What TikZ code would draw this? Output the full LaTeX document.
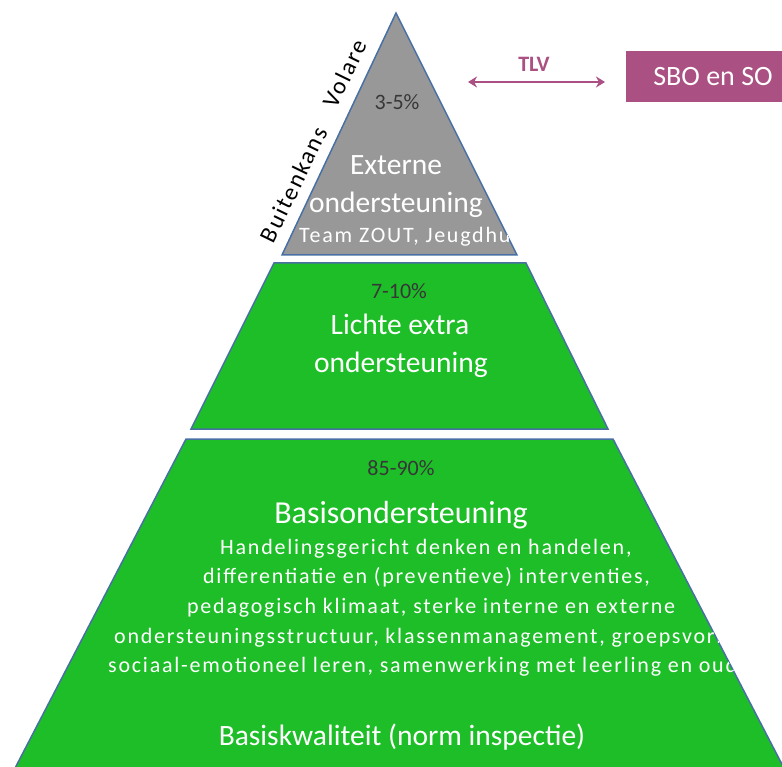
\documentclass[tikz,border=0pt]{standalone}
\usepackage{fontspec}
\setmainfont{Carlito}
\newfontfamily\widefont[LetterSpace=8]{Carlito}
\usetikzlibrary{arrows.meta}

\definecolor{layergreen}{RGB}{30,190,40}
\definecolor{layergray}{RGB}{152,152,152}
\definecolor{layerline}{RGB}{72,112,164}
\definecolor{tlvpink}{RGB}{170,80,130}
\definecolor{pcttext}{RGB}{55,55,55}

\newcommand{\fsz}[1]{\fontsize{#1}{#1}\selectfont}

\tikzset{
  layer/.style={fill=#1, draw=layerline, line width=1.5pt},
  pct/.style={text=pcttext, font=\fsz{22}, inner sep=0pt, anchor=base},
  title/.style={text=white, font=\fsz{29.5}, inner sep=0pt, anchor=base},
  body/.style={text=white, font=\widefont\fsz{22}, inner sep=0pt, anchor=base west},
  side/.style={font=\widefont\fsz{24}, inner sep=0pt, anchor=base, rotate=64},
}

\begin{document}
\begin{tikzpicture}[x=1pt,y=-1pt]
  \clip (0,0) rectangle (782,767);
  % the three layers
  \draw[layer=layergray] (396,13) -- (517,255) -- (282,255) -- cycle;
  \draw[layer=layergreen] (274,263) -- (526,263) -- (608,429) -- (191,429) -- cycle;
  \draw[layer=layergreen] (186,439) -- (613,439) -- (786,772) -- (13,772) -- cycle;

  % top layer
  \node[pct] (top pct) at (397,110) {3-5\%};
  \node[title] (top title) at (396,175) {Externe};
  \node[title] (top title2) at (396,213) {ondersteuning};
  \begin{scope}
    \clip (396,13) -- (517,255) -- (282,255) -- cycle;
    \node[body] (top body) at (299,243) {Team ZOUT, Jeugdhu};
  \end{scope}

  % middle layer
  \node[pct] (mid pct) at (399,299) {7-10\%};
  \node[title] (mid title) at (400,335) {Lichte extra};
  \node[title] (mid title2) at (401,372) {ondersteuning};

  % bottom layer
  \node[pct] (base pct) at (401,475) {85-90\%};
  \node[title, font=\fsz{32}] (base title) at (401,523) {Basisondersteuning};
  \begin{scope}
    \clip (186,439) -- (613,439) -- (786,772) -- (13,772) -- cycle;
    \node[body] (base l1) at (220,554) {Handelingsgericht denken en handelen,};
    \node[body] (base l2) at (203,583) {differentiatie en (preventieve) interventies,};
    \node[body] (base l3) at (187,613) {pedagogisch klimaat, sterke interne en externe};
    \node[body] (base l4) at (114,643) {ondersteuningsstructuur, klassenmanagement, groepsvorm};
    \node[body] (base l5) at (108,672) {sociaal-emotioneel leren, samenwerking met leerling en oud};
  \end{scope}
  \node[title] (base foot) at (402,745) {Basiskwaliteit (norm inspectie)};

  % side labels
  \node[side] (buiten) at (301,188) {Buitenkans};
  \node[side] (volare) at (352,77) {Volare};

  % TLV arrow and box
  \coordinate (tlv l) at (468,82);
  \coordinate (tlv r) at (605,82);
  \draw[tlvpink, line width=2.5pt, {Stealth[length=9pt,width=11pt]}-{Stealth[length=9pt,width=11pt]}] (tlv l) -- (tlv r);
  \node[text=tlvpink, font=\bfseries\fsz{22}, inner sep=0pt, anchor=base] (tlv) at (534,72) {TLV};
  \node[fill=tlvpink, text=white, font=\fsz{28}, minimum width=174pt, minimum height=51pt, inner sep=0pt] (sbo) at (713,76.5) {SBO en SO};
\end{tikzpicture}
\end{document}
